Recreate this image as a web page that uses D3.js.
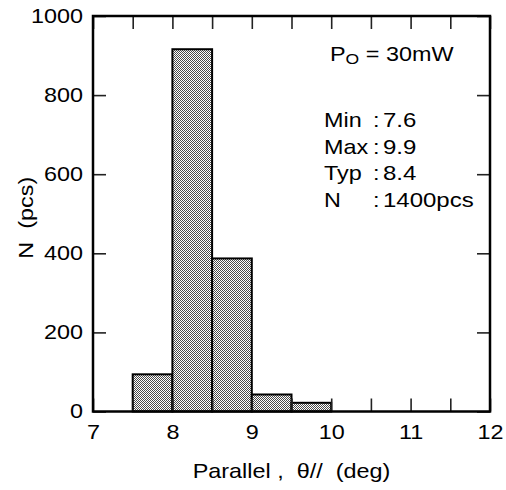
<!DOCTYPE html>
<html>
<head>
<meta charset="utf-8">
<script src="https://cdn.jsdelivr.net/npm/d3@7"></script>
<style>
  html, body { margin: 0; padding: 0; background: #fff; }
  svg { display: block; }
</style>
</head>
<body>
<svg id="chart" width="506" height="490"></svg>
<script>
// ---- data ----
const binStarts = [7.5, 8.0, 8.5, 9.0, 9.5];
const binWidth = 0.5;
const counts = [94, 916, 387, 43, 22];
const xTickValues = [7, 7.5, 8, 8.5, 9, 9.5, 10, 10.5, 11, 11.5, 12];
const xTickLabels = ["7", "8", "9", "10", "11", "12"];
const yTickValues = [0, 200, 400, 600, 800, 1000];
const statLabels = ["Min", "Max", "Typ", "N"];
const statValues = ["7.6", "9.9", "8.4", "1400pcs"];
const xTitle = "Parallel ,  \u03b8//  (deg)";
const yTitle = "N  (pcs)";

// ---- layout ----
const L = 93, R = 490, T = 16, B = 411.5;
const FONT = "'Liberation Sans', Arial, Helvetica, sans-serif";
const SX = "scale(1.17,1)";

const svg = d3.select("#chart");
svg.append("rect").attr("width", 506).attr("height", 490).attr("fill", "#fff");

const defs = svg.append("defs");
const pat = defs.append("pattern")
  .attr("id", "dots").attr("patternUnits", "userSpaceOnUse")
  .attr("width", 2).attr("height", 2);
pat.append("rect").attr("width", 2).attr("height", 2).attr("fill", "#fff");
pat.append("rect").attr("x", 0).attr("y", 0).attr("width", 1).attr("height", 1).attr("fill", "#4a4a4a");
pat.append("rect").attr("x", 1).attr("y", 1).attr("width", 1).attr("height", 1).attr("fill", "#4a4a4a");

const x = d3.scaleLinear().domain([7, 12]).range([L, R]);
const y = d3.scaleLinear().domain([0, 1000]).range([B, T]);

// bars
svg.append("g").selectAll("rect")
  .data(binStarts.map((s, i) => ({ s, c: counts[i] })))
  .join("rect")
  .attr("x", d => x(d.s))
  .attr("y", d => y(d.c))
  .attr("width", d => x(d.s + binWidth) - x(d.s))
  .attr("height", d => y(0) - y(d.c))
  .attr("fill", "url(#dots)")
  .attr("stroke", "#000")
  .attr("stroke-width", 2);

const tickLen = 13;
function styleAxis(g) {
  g.attr("font-family", FONT).attr("font-size", 20);
  g.select(".domain").remove();
  g.selectAll(".tick line").attr("stroke", "#222").attr("stroke-width", 1.6);
  g.selectAll(".tick text").attr("fill", "#000").attr("transform", SX);
}

const fmtX = v => (Number.isInteger(v) ? xTickLabels[v - 7] : "");

svg.append("g").attr("transform", `translate(0,${B})`)
  .call(d3.axisBottom(x).tickValues(xTickValues).tickFormat(fmtX).tickSize(-tickLen).tickPadding(13))
  .call(styleAxis);
svg.append("g").attr("transform", `translate(0,${T})`)
  .call(d3.axisTop(x).tickValues(xTickValues).tickFormat("").tickSize(-tickLen))
  .call(styleAxis);
svg.append("g").attr("transform", `translate(${L},0)`)
  .call(d3.axisLeft(y).tickValues(yTickValues).tickFormat(d3.format("d")).tickSize(-tickLen).tickPadding(8.5))
  .call(styleAxis);
svg.append("g").attr("transform", `translate(${R},0)`)
  .call(d3.axisRight(y).tickValues(yTickValues).tickFormat("").tickSize(-tickLen))
  .call(styleAxis);

// frame
svg.append("rect")
  .attr("x", L).attr("y", T).attr("width", R - L).attr("height", B - T)
  .attr("fill", "none").attr("stroke", "#000").attr("stroke-width", 2.5);

// titles
svg.append("text")
  .attr("transform", `translate(${(L + R) / 2},478) ${SX}`)
  .attr("text-anchor", "middle").attr("font-family", FONT).attr("font-size", 20)
  .style("white-space", "pre")
  .text(xTitle);
svg.append("text")
  .attr("transform", `translate(33,${(T + B) / 2 + 4}) rotate(-90) ${SX}`)
  .attr("text-anchor", "middle").attr("font-family", FONT).attr("font-size", 20)
  .style("white-space", "pre")
  .text(yTitle);

// annotation
const po = svg.append("text")
  .attr("transform", `translate(330,61) ${SX}`)
  .attr("font-family", FONT).attr("font-size", 20).style("white-space", "pre");
po.append("tspan").text("P");
po.append("tspan").attr("font-size", 15).attr("dy", 3).text("O");
po.append("tspan").attr("dy", -3).text(" = 30mW");

const lineY = [127, 153.5, 180, 206.5];
statLabels.forEach((lab, i) => {
  svg.append("text").attr("transform", `translate(324,${lineY[i]}) ${SX}`)
    .attr("font-family", FONT).attr("font-size", 20).text(lab);
  svg.append("text").attr("transform", `translate(373,${lineY[i]}) ${SX}`)
    .attr("font-family", FONT).attr("font-size", 20).text(":");
  svg.append("text").attr("transform", `translate(383,${lineY[i]}) scale(1.2,1)`)
    .attr("font-family", FONT).attr("font-size", 20).text(statValues[i]);
});
</script>
</body>
</html>
